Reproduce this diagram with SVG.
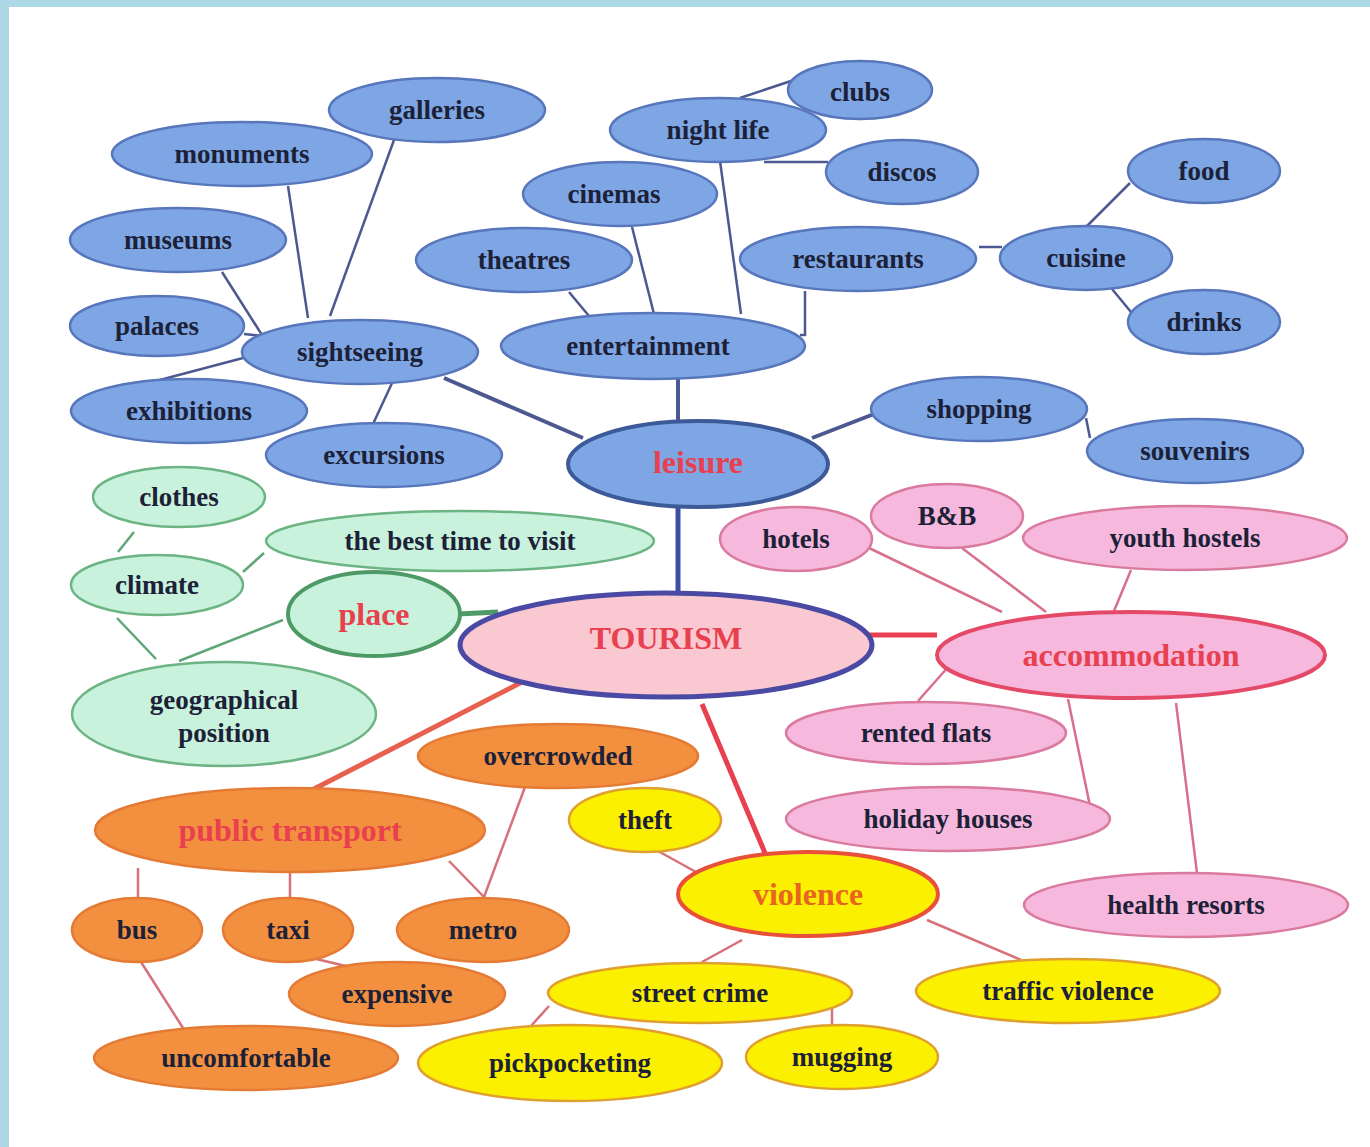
<svg xmlns="http://www.w3.org/2000/svg" width="1370" height="1147" viewBox="0 0 1370 1147">
<style>
text{font-family:"Liberation Serif","Times New Roman",serif;font-weight:bold;text-anchor:middle;dominant-baseline:central}
.t{font-size:27px;fill:#1c2138}
.h{font-size:32px;fill:#e8404e}
.b{fill:#7ea6e4;stroke:#5876bc;stroke-width:2.5}
.g{fill:#c8f2dc;stroke:#6cb484;stroke-width:2.5}
.p{fill:#f6b8dc;stroke:#d97a9e;stroke-width:2.5}
.o{fill:#f29040;stroke:#e47a34;stroke-width:2.5}
.y{fill:#fbf000;stroke:#e0a030;stroke-width:2.5}
.lb{stroke:#4c5890;stroke-width:2.5;fill:none}
.lg{stroke:#5ea676;stroke-width:2.5;fill:none}
.lp{stroke:#d8708c;stroke-width:2.5;fill:none}
.lo{stroke:#d8707a;stroke-width:2.5;fill:none}
</style>
<rect x="0" y="0" width="1370" height="1147" fill="#ffffff"/>
<rect x="0" y="0" width="1370" height="7" fill="#add8e6"/>
<rect x="0" y="0" width="9" height="1147" fill="#add8e6"/>
<g id="connectors">
<line class="lb" x1="288" y1="186" x2="308" y2="318"/>
<line class="lb" x1="394" y1="140" x2="330" y2="316"/>
<line class="lb" x1="222" y1="272" x2="262" y2="335"/>
<line class="lb" x1="244" y1="334" x2="264" y2="336"/>
<line class="lb" x1="156" y1="381" x2="243" y2="358"/>
<line class="lb" x1="373" y1="424" x2="393" y2="381"/>
<line stroke="#4c5890" stroke-width="4" x1="444" y1="378" x2="583" y2="438"/>
<line class="lb" x1="569" y1="292" x2="589" y2="316"/>
<line class="lb" x1="632" y1="227" x2="654" y2="314"/>
<line class="lb" x1="720" y1="161" x2="741" y2="314"/>
<line class="lb" x1="740" y1="98" x2="794" y2="80"/>
<line class="lb" x1="764" y1="162" x2="828" y2="162"/>
<polyline class="lb" points="805,291 805,335 800,335"/>
<line class="lb" x1="979" y1="247" x2="1002" y2="247"/>
<line class="lb" x1="1087" y1="226" x2="1130" y2="183"/>
<line class="lb" x1="1112" y1="289" x2="1131" y2="312"/>
<line stroke="#4c5890" stroke-width="4" x1="678" y1="379" x2="678" y2="421"/>
<line stroke="#4c5890" stroke-width="4" x1="812" y1="438" x2="874" y2="414"/>
<line class="lb" x1="1086" y1="418" x2="1090" y2="438"/>
<line stroke="#3e4ea4" stroke-width="5" x1="678" y1="507" x2="678" y2="593"/>
<line class="lg" x1="134" y1="532" x2="118" y2="552"/>
<line class="lg" x1="264" y1="553" x2="243" y2="572"/>
<line class="lg" x1="117" y1="618" x2="156" y2="659"/>
<line class="lg" x1="283" y1="620" x2="179" y2="661"/>
<line stroke="#4e9a66" stroke-width="5" x1="458" y1="614" x2="498" y2="612"/>
<line stroke="#e8604e" stroke-width="5" x1="524" y1="681" x2="312" y2="790"/>
<line class="lo" x1="525" y1="787" x2="484" y2="897"/>
<line class="lo" x1="449" y1="861" x2="484" y2="897"/>
<line class="lo" x1="138" y1="868" x2="138" y2="899"/>
<line class="lo" x1="290" y1="871" x2="290" y2="899"/>
<line class="lo" x1="312" y1="958" x2="354" y2="968"/>
<line class="lo" x1="141" y1="962" x2="183" y2="1028"/>
<line class="lo" x1="549" y1="1006" x2="531" y2="1026"/>
<line class="lo" x1="658" y1="851" x2="696" y2="872"/>
<line stroke="#e84050" stroke-width="5" x1="869" y1="635" x2="937" y2="635"/>
<line class="lp" x1="869" y1="548" x2="1002" y2="612"/>
<line class="lp" x1="962" y1="548" x2="1046" y2="612"/>
<line class="lp" x1="1131" y1="570" x2="1114" y2="611"/>
<line class="lp" x1="957" y1="657" x2="918" y2="701"/>
<line class="lp" x1="1068" y1="699" x2="1090" y2="806"/>
<line class="lp" x1="1176" y1="703" x2="1197" y2="873"/>
<line stroke="#e84050" stroke-width="5" x1="702" y1="704" x2="765" y2="853"/>
<line class="lo" x1="742" y1="940" x2="702" y2="962"/>
<line class="lo" x1="927" y1="920" x2="1021" y2="960"/>
<line class="lo" x1="832" y1="1006" x2="832" y2="1026"/>
</g>
<g id="galleries"><ellipse class="b" cx="437" cy="110" rx="108" ry="32"/><text class="t" x="437" y="110">galleries</text></g>
<g id="monuments"><ellipse class="b" cx="242" cy="154" rx="130" ry="32"/><text class="t" x="242" y="154">monuments</text></g>
<g id="museums"><ellipse class="b" cx="178" cy="240" rx="108" ry="32"/><text class="t" x="178" y="240">museums</text></g>
<g id="palaces"><ellipse class="b" cx="157" cy="326" rx="87" ry="30"/><text class="t" x="157" y="326">palaces</text></g>
<g id="sightseeing"><ellipse class="b" cx="360" cy="352" rx="118" ry="32"/><text class="t" x="360" y="352">sightseeing</text></g>
<g id="exhibitions"><ellipse class="b" cx="189" cy="411" rx="118" ry="32"/><text class="t" x="189" y="411">exhibitions</text></g>
<g id="excursions"><ellipse class="b" cx="384" cy="455" rx="118" ry="32"/><text class="t" x="384" y="455">excursions</text></g>
<g id="cinemas"><ellipse class="b" cx="620" cy="194" rx="97" ry="32"/><text class="t" x="614" y="194">cinemas</text></g>
<g id="theatres"><ellipse class="b" cx="524" cy="260" rx="108" ry="32"/><text class="t" x="524" y="260">theatres</text></g>
<g id="night-life"><ellipse class="b" cx="718" cy="130" rx="108" ry="32"/><text class="t" x="718" y="130">night life</text></g>
<g id="clubs"><ellipse class="b" cx="860" cy="90" rx="72" ry="29"/><text class="t" x="860" y="92">clubs</text></g>
<g id="discos"><ellipse class="b" cx="902" cy="172" rx="76" ry="32"/><text class="t" x="902" y="172">discos</text></g>
<g id="entertainment"><ellipse class="b" cx="653" cy="346" rx="152" ry="33"/><text class="t" x="648" y="346">entertainment</text></g>
<g id="restaurants"><ellipse class="b" cx="858" cy="259" rx="118" ry="32"/><text class="t" x="858" y="259">restaurants</text></g>
<g id="cuisine"><ellipse class="b" cx="1086" cy="258" rx="86" ry="32"/><text class="t" x="1086" y="258">cuisine</text></g>
<g id="food"><ellipse class="b" cx="1204" cy="171" rx="76" ry="32"/><text class="t" x="1204" y="171">food</text></g>
<g id="drinks"><ellipse class="b" cx="1204" cy="322" rx="76" ry="32"/><text class="t" x="1204" y="322">drinks</text></g>
<g id="shopping"><ellipse class="b" cx="979" cy="409" rx="108" ry="32"/><text class="t" x="979" y="409">shopping</text></g>
<g id="souvenirs"><ellipse class="b" cx="1195" cy="451" rx="108" ry="32"/><text class="t" x="1195" y="451">souvenirs</text></g>
<g id="leisure"><ellipse cx="698" cy="464" rx="130" ry="43" fill="#7ea6e4" stroke="#3c5a98" stroke-width="4"/><text class="h" x="698" y="462">leisure</text></g>
<g id="clothes"><ellipse class="g" cx="179" cy="497" rx="86" ry="30"/><text class="t" x="179" y="497">clothes</text></g>
<g id="best-time"><ellipse class="g" cx="460" cy="541" rx="194" ry="30"/><text class="t" x="460" y="541">the best time to visit</text></g>
<g id="climate"><ellipse class="g" cx="157" cy="585" rx="86" ry="30"/><text class="t" x="157" y="585">climate</text></g>
<g id="place"><ellipse cx="374" cy="614" rx="86" ry="42" fill="#c8f2dc" stroke="#4e9a66" stroke-width="4"/><text class="h" x="374" y="614">place</text></g>
<g id="geographical-position"><ellipse class="g" cx="224" cy="714" rx="152" ry="52"/><text class="t" x="224" y="700">geographical</text><text class="t" x="224" y="733">position</text></g>
<g id="tourism"><ellipse cx="666" cy="645" rx="206" ry="52" fill="#f9c8d0" stroke="#4a4aa4" stroke-width="5"/><text class="h" x="666" y="638" font-size="34px">TOURISM</text></g>
<g id="hotels"><ellipse class="p" cx="796" cy="539" rx="76" ry="32"/><text class="t" x="796" y="539">hotels</text></g>
<g id="bnb"><ellipse class="p" cx="947" cy="516" rx="76" ry="32"/><text class="t" x="947" y="516">B&amp;B</text></g>
<g id="youth-hostels"><ellipse class="p" cx="1185" cy="538" rx="162" ry="32"/><text class="t" x="1185" y="538">youth hostels</text></g>
<g id="accommodation"><ellipse cx="1131" cy="655" rx="194" ry="43" fill="#f6b8dc" stroke="#e44a68" stroke-width="4"/><text class="h" x="1131" y="655">accommodation</text></g>
<g id="rented-flats"><ellipse class="p" cx="926" cy="733" rx="140" ry="31"/><text class="t" x="926" y="733">rented flats</text></g>
<g id="holiday-houses"><ellipse class="p" cx="948" cy="819" rx="162" ry="32"/><text class="t" x="948" y="819">holiday houses</text></g>
<g id="health-resorts"><ellipse class="p" cx="1186" cy="905" rx="162" ry="32"/><text class="t" x="1186" y="905">health resorts</text></g>
<g id="overcrowded"><ellipse class="o" cx="558" cy="756" rx="140" ry="32"/><text class="t" x="558" y="756">overcrowded</text></g>
<g id="public-transport"><ellipse class="o" cx="290" cy="830" rx="195" ry="42"/><text class="h" x="290" y="830" fill="#ee3e4e">public transport</text></g>
<g id="bus"><ellipse class="o" cx="137" cy="930" rx="65" ry="32"/><text class="t" x="137" y="930">bus</text></g>
<g id="taxi"><ellipse class="o" cx="288" cy="930" rx="65" ry="32"/><text class="t" x="288" y="930">taxi</text></g>
<g id="metro"><ellipse class="o" cx="483" cy="930" rx="86" ry="32"/><text class="t" x="483" y="930">metro</text></g>
<g id="expensive"><ellipse class="o" cx="397" cy="994" rx="108" ry="32"/><text class="t" x="397" y="994">expensive</text></g>
<g id="uncomfortable"><ellipse class="o" cx="246" cy="1058" rx="152" ry="32"/><text class="t" x="246" y="1058">uncomfortable</text></g>
<g id="theft"><ellipse class="y" cx="645" cy="820" rx="76" ry="32"/><text class="t" x="645" y="820">theft</text></g>
<g id="violence"><ellipse cx="808" cy="894" rx="130" ry="42" fill="#fbf000" stroke="#e8503a" stroke-width="4"/><text class="h" x="808" y="894" style="fill:#e86420">violence</text></g>
<g id="street-crime"><ellipse class="y" cx="700" cy="993" rx="152" ry="30"/><text class="t" x="700" y="993">street crime</text></g>
<g id="traffic-violence"><ellipse class="y" cx="1068" cy="991" rx="152" ry="32"/><text class="t" x="1068" y="991">traffic violence</text></g>
<g id="pickpocketing"><ellipse class="y" cx="570" cy="1063" rx="152" ry="38"/><text class="t" x="570" y="1063">pickpocketing</text></g>
<g id="mugging"><ellipse class="y" cx="842" cy="1057" rx="96" ry="32"/><text class="t" x="842" y="1057">mugging</text></g>
</svg>
